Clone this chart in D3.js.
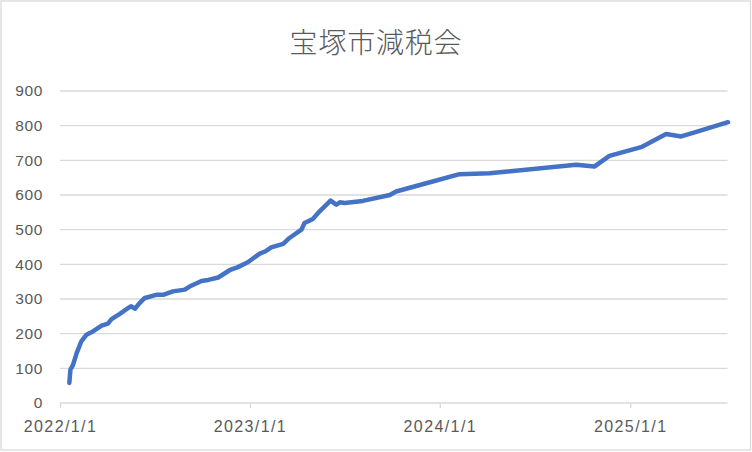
<!DOCTYPE html>
<html>
<head>
<meta charset="utf-8">
<script src="https://cdn.jsdelivr.net/npm/d3@7"></script>
<style>
  html, body { margin: 0; padding: 0; background: #fff; }
  svg { display: block; }
</style>
</head>
<body>
<svg id="chart" width="752" height="452"></svg>
<script>
const title = "宝塚市減税会";
const dates = [
  "2022-01-19","2022-01-20","2022-01-21","2022-01-26","2022-02-02","2022-02-11","2022-02-21",
  "2022-03-06","2022-03-22","2022-04-03","2022-04-10","2022-04-26","2022-05-12","2022-05-18",
  "2022-05-25","2022-06-03","2022-06-13","2022-07-05","2022-07-18","2022-08-06","2022-08-29",
  "2022-09-07","2022-09-30","2022-10-13","2022-11-01","2022-11-23","2022-12-09","2022-12-28",
  "2023-01-20","2023-01-30","2023-02-11","2023-03-06","2023-03-18","2023-04-10","2023-04-16",
  "2023-05-02","2023-05-15","2023-06-05","2023-06-13","2023-06-16","2023-06-23","2023-07-02",
  "2023-08-06","2023-09-27","2023-10-09","2023-12-06","2024-02-08","2024-04-06","2024-09-19",
  "2024-10-24","2024-11-22","2025-01-22","2025-03-11","2025-04-09","2025-05-08","2025-07-08"
];
const members = [
  58,78,96,110,144,178,197,
  207,223,229,242,257,274,279,
  272,288,303,312,312,322,327,
  336,352,355,362,383,392,406,
  431,437,449,459,476,500,519,
  531,553,584,575,572,579,577,
  583,600,610,634,660,663,687,
  682,713,738,776,769,782,810
];
const yTicks = [0,100,200,300,400,500,600,700,800,900];
const xTickLabels = ["2022/1/1","2023/1/1","2024/1/1","2025/1/1"];
const xDomain = ["2022-01-01","2025-07-07"];

const parse = d3.timeParse("%Y-%m-%d");
const data = dates.map((d,i) => ({date: parse(d), value: members[i]}));

const svg = d3.select("#chart");
const plotLeft = 60, plotRight = 727.5, plotTop = 91, plotBottom = 403;

// outer border
svg.append("rect").attr("x",1).attr("y",1).attr("width",749.5).attr("height",449)
  .attr("fill","#fff").attr("stroke","#d9d9d9").attr("stroke-width",1.3);

const x = d3.scaleTime().domain(xDomain.map(parse)).range([plotLeft, plotRight]);
const y = d3.scaleLinear().domain([0, 900]).range([plotBottom, plotTop]);

// gridlines
svg.append("g").selectAll("line").data(yTicks.filter(t => t > 0)).join("line")
  .attr("x1", plotLeft).attr("x2", plotRight)
  .attr("y1", d => y(d)).attr("y2", d => y(d))
  .attr("stroke", "#d9d9d9").attr("stroke-width", 1.3);

// y axis labels
const yAxis = d3.axisLeft(y).tickValues(yTicks).tickSize(0).tickPadding(0);
const gy = svg.append("g").attr("transform", `translate(43,0)`).call(yAxis);
gy.select(".domain").remove();
gy.selectAll("text").attr("fill","#595959")
  .style("font-family","'Liberation Sans', Arial, sans-serif").style("font-size","15.5px")
  .style("letter-spacing","0.6px");

// x axis
const xTickDates = xTickLabels.map(s => d3.timeParse("%Y/%m/%d")(s));
const xAxis = d3.axisBottom(x).tickValues(xTickDates).tickSize(5).tickPadding(13)
  .tickFormat((d,i) => xTickLabels[i]);
const gx = svg.append("g").attr("transform", `translate(0,${plotBottom})`).call(xAxis);
gx.select(".domain").attr("stroke","#d9d9d9").attr("stroke-width",1.5).attr("d", `M${plotLeft},0H${plotRight}`);
gx.selectAll(".tick line").attr("stroke","#d9d9d9").attr("stroke-width",1.3);
gx.selectAll("text").attr("fill","#595959")
  .style("font-family","'Liberation Sans', Arial, sans-serif").style("font-size","16px")
  .style("letter-spacing","1.4px");

// line
const line = d3.line().x(d => x(d.date)).y(d => y(d.value));
svg.append("path").datum(data).attr("d", line)
  .attr("fill","none").attr("stroke","#4472C4").attr("stroke-width",4.5)
  .attr("stroke-linejoin","round").attr("stroke-linecap","round");

// title
svg.append("text").attr("x", 376).attr("y", 53).attr("text-anchor","middle")
  .attr("fill","#595959")
  .style("font-family","'Noto Sans CJK JP', sans-serif").style("font-weight","300")
  .style("font-size","28px").style("letter-spacing","0.8px")
  .text(title);
</script>
</body>
</html>
